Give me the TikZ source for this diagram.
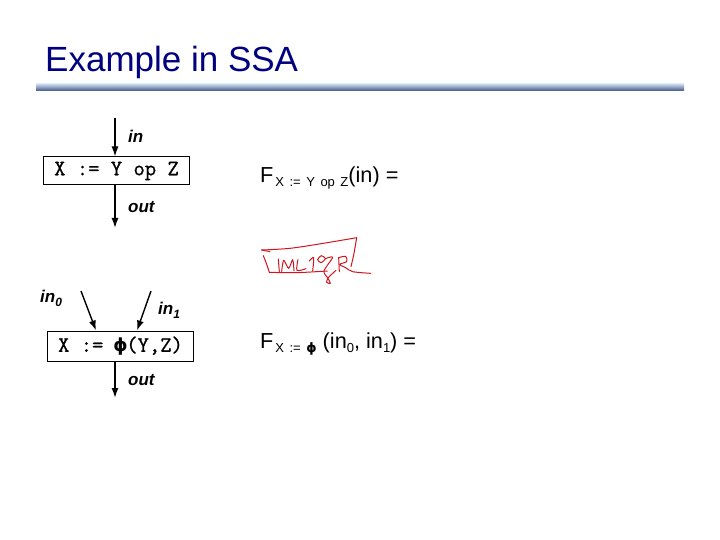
\documentclass[tikz,border=0pt]{standalone}
\usepackage{fontspec}
\setmainfont{Liberation Sans}
\newfontfamily\codefont{Latin Modern Mono}[FakeBold=0.9]
\newfontfamily\phifont{DejaVu Sans}
\usetikzlibrary{arrows.meta}
\definecolor{titlecolor}{RGB}{0,0,128}
\definecolor{barlight}{RGB}{200,218,232}
\definecolor{bardark}{RGB}{66,82,138}
\definecolor{inkred}{RGB}{210,20,30}
\newcommand{\lowsub}[2][13]{\raisebox{-4pt}{\fontsize{#1}{#1}\selectfont\spaceskip=5.5pt #2}}
\newcommand{\boldphi}{{\phifont\bfseries ϕ}}

\begin{document}
\begin{tikzpicture}[x=1pt, y=-1pt,
    stmt/.style={draw, line width=1pt, font=\codefont\fontsize{22}{24}\selectfont, minimum width=146pt, inner sep=0pt},
    flow/.style={-{Latex[length=10pt,width=7pt]}, line width=1.4pt},
    flowlabel/.style={font=\bfseries\itshape\fontsize{17}{20}\selectfont, inner sep=0pt, anchor=west},
    formula/.style={font=\fontsize{21.7}{26}\selectfont, anchor=base west, inner sep=0pt},
    scribble/.style={inkred, line width=1pt, line cap=round, line join=round}
]
\useasboundingbox (0,0) rectangle (720,540);

% Title and rule
\node[anchor=base west, inner sep=0pt, text=titlecolor, font=\fontsize{35}{40}\selectfont] (title) at (45,72) {Example in SSA};
\shade[top color=barlight, bottom color=bardark] (36,84) rectangle (684,91);

% Plain assignment
\node[stmt, minimum height=28pt] (assign) at (116.5,171) {X := Y op Z};
\coordinate (in-top) at (115,118);
\coordinate (out-bot) at (115,228);
\draw[flow] (in-top) -- (in-top |- assign.north);
\draw[flow] (out-bot |- assign.south) -- (out-bot);
\node[flowlabel] (in-lbl) at (128,136) {in};
\node[flowlabel] (out-lbl) at (128,207) {out};

% Phi assignment
\node[stmt, minimum height=30pt] (phi) at (120.5,346) {X := \makebox[0.525em]{\fontsize{18}{20}\selectfont\boldphi}(Y,Z)};
\coordinate (in0-top) at (81,291);
\coordinate (in1-top) at (151,291);
\coordinate (phi-out) at (115,398);
\draw[flow] (in0-top) -- ([xshift=49pt]phi.north west);
\draw[flow] (in1-top) -- ([xshift=-57pt]phi.north east);
\draw[flow] (phi-out |- phi.south) -- (phi-out);
\node[flowlabel] (in0-lbl) at (40,298) {in\lowsub[12]{0}};
\node[flowlabel] (in1-lbl) at (158,310) {in\lowsub[12]{1}};
\node[flowlabel] (phiout-lbl) at (128,380) {out};

% Transfer functions
\node[formula] (f-assign) at (260,183) {F\hspace{2pt}\lowsub{X := Y op Z}(in) =};
\node[formula] (f-phi) at (260,348) {F\hspace{2pt}\lowsub{X := \boldphi} (in\lowsub{0}, in\lowsub{1}) =};

% Handwritten answer
\begin{scope}[shift={(250,225)}, scale=1/3]
\draw[scribble] plot[smooth] coordinates {(35,75) (120,70) (220,55) (320,38)};
\draw[scribble] plot[smooth] coordinates {(320,38) (312,85) (303,125)};
\draw[scribble] (35,75) -- (60,80);
\draw[scribble] plot[smooth] coordinates {(40,92) (50,118) (58,142)};
\draw[scribble] plot[smooth] coordinates {(58,142) (140,143) (232,138)};
\draw[scribble] (85,102) -- (88,140);
\draw[scribble] plot[smooth] coordinates {(95,140) (101,106) (116,130) (128,104) (132,138)};
\draw[scribble] plot[smooth] coordinates {(144,104) (141,136) (168,131)};
\draw[scribble] plot[smooth] coordinates {(178,108) (191,98) (188,138)};
\draw[scribble] plot[smooth cycle] coordinates {(203,104) (214,92) (226,101) (213,113)};
\draw[scribble] plot[smooth] coordinates {(226,101) (248,97) (222,138) (234,160) (241,175) (230,172) (235,158) (258,136)};
\draw[scribble] (266,98) -- (268,140);
\draw[scribble] plot[smooth] coordinates {(266,98) (287,94) (290,110) (269,118) (287,128) (308,140) (362,145)};
\end{scope}

\end{tikzpicture}
\end{document}
